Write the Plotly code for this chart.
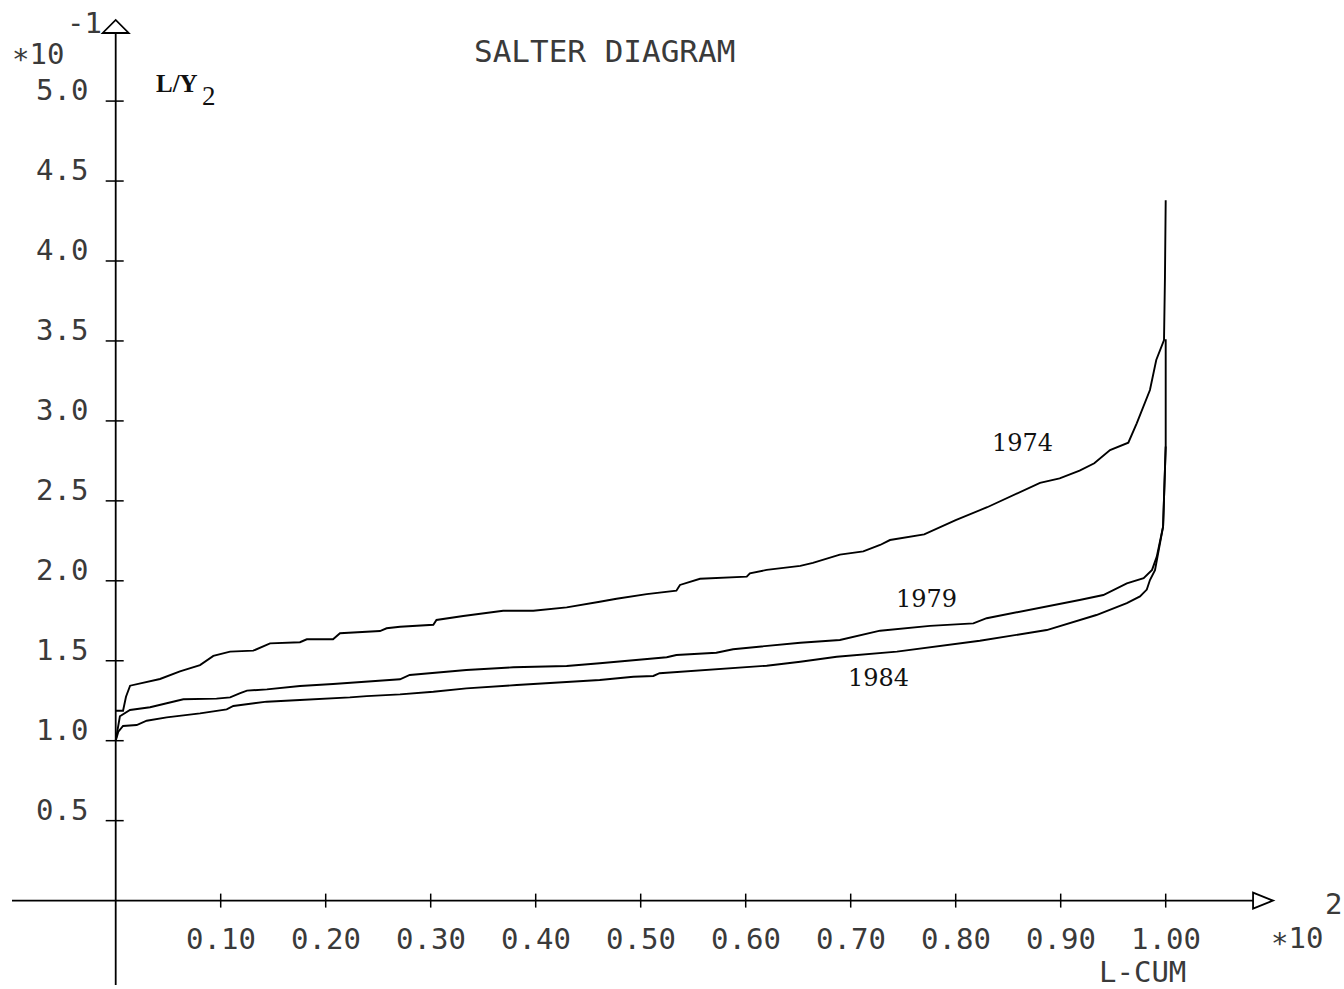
import plotly.graph_objects as go

# ---------------- data (x: L-CUM in units of 10^2, y: L/Y2 in units of 10^-1)
x_1974 = [0.0, 0.007, 0.0098, 0.0137, 0.0422, 0.0612, 0.0803, 0.093, 0.1089, 0.131, 0.147,
          0.1755, 0.182, 0.207, 0.2136, 0.2517, 0.258, 0.2708, 0.3025, 0.3055, 0.331, 0.350,
          0.369, 0.3977, 0.4295, 0.461, 0.477, 0.5057, 0.534, 0.5374, 0.5565, 0.601, 0.604,
          0.620, 0.652, 0.664, 0.6897, 0.712, 0.728, 0.7374, 0.77, 0.80, 0.83, 0.8803, 0.899,
          0.918, 0.932, 0.947, 0.9644, 0.9724, 0.9787, 0.985, 0.991, 0.9962, 0.9984, 0.9993, 1.0]
y_1974 = [1.187, 1.187, 1.275, 1.344, 1.386, 1.434, 1.473, 1.530, 1.557, 1.563, 1.609,
          1.616, 1.634, 1.634, 1.672, 1.686, 1.703, 1.713, 1.725, 1.755, 1.780, 1.797,
          1.813, 1.813, 1.834, 1.869, 1.888, 1.917, 1.938, 1.974, 2.013, 2.026, 2.047,
          2.068, 2.093, 2.112, 2.164, 2.184, 2.224, 2.255, 2.29, 2.38, 2.46, 2.612, 2.641,
          2.689, 2.735, 2.818, 2.864, 2.985, 3.089, 3.193, 3.381, 3.464, 3.506, 3.9, 4.38]

x_1979 = [0.0, 0.004, 0.0136, 0.0327, 0.0486, 0.0644, 0.096, 0.109, 0.118, 0.125, 0.144,
          0.1755, 0.207, 0.239, 0.2708, 0.280, 0.3025, 0.334, 0.3787, 0.4295, 0.461, 0.493,
          0.5248, 0.534, 0.572, 0.588, 0.620, 0.652, 0.6897, 0.728, 0.7755, 0.8168, 0.8295,
          0.8708, 0.918, 0.9406, 0.963, 0.979, 0.987, 0.9915, 0.995, 0.9975, 1.0, 1.0]
y_1979 = [1.0, 1.153, 1.192, 1.209, 1.234, 1.259, 1.263, 1.271, 1.296, 1.313, 1.321,
          1.342, 1.355, 1.369, 1.384, 1.411, 1.425, 1.442, 1.459, 1.467, 1.484, 1.505,
          1.522, 1.536, 1.550, 1.572, 1.593, 1.613, 1.630, 1.688, 1.718, 1.734, 1.766,
          1.817, 1.880, 1.911, 1.984, 2.016, 2.068, 2.151, 2.255, 2.338, 2.84, 3.51]

x_1984 = [0.0, 0.0025, 0.007, 0.02, 0.0295, 0.0486, 0.0803, 0.1057, 0.112, 0.1438, 0.1755,
          0.207, 0.223, 0.239, 0.2708, 0.3025, 0.334, 0.382, 0.4295, 0.461, 0.493, 0.512,
          0.518, 0.5565, 0.588, 0.620, 0.652, 0.6867, 0.744, 0.791, 0.823, 0.8867, 0.934,
          0.963, 0.9755, 0.982, 0.985, 0.9898, 0.9975, 1.0]
y_1984 = [1.0, 1.056, 1.092, 1.098, 1.125, 1.146, 1.171, 1.196, 1.217, 1.244, 1.255,
          1.263, 1.271, 1.279, 1.290, 1.306, 1.327, 1.348, 1.369, 1.380, 1.400, 1.405,
          1.422, 1.438, 1.453, 1.469, 1.494, 1.525, 1.557, 1.598, 1.625, 1.692, 1.786,
          1.861, 1.902, 1.945, 2.005, 2.067, 2.338, 2.84]

series_names = ["1974", "1979", "1984"]

x_ticks = [0.1, 0.2, 0.3, 0.4, 0.5, 0.6, 0.7, 0.8, 0.9, 1.0]
x_tick_labels = ["0.10", "0.20", "0.30", "0.40", "0.50", "0.60", "0.70", "0.80", "0.90", "1.00"]
y_ticks = [0.5, 1.0, 1.5, 2.0, 2.5, 3.0, 3.5, 4.0, 4.5, 5.0]
y_tick_labels = ["0.5", "1.0", "1.5", "2.0", "2.5", "3.0", "3.5", "4.0", "4.5", "5.0"]

# ---------------- geometry
W, H = 1344, 989
X0_PX, X_SCALE = 115.7, 1050.0   # pixel of x=0, pixels per unit
Y0_PX, Y_SCALE = 900.6, 159.9    # pixel of y=0, pixels per unit
x_range = [(0 - X0_PX) / X_SCALE, (W - X0_PX) / X_SCALE]
y_range = [(Y0_PX - H) / Y_SCALE, (Y0_PX - 0) / Y_SCALE]

def dx(px):  # pixel length -> x data length
    return px / X_SCALE

def dy(px):
    return px / Y_SCALE

NUM_FONT = dict(family="DejaVu Sans Mono", size=29, color="#3a3a3a")
LAB_FONT = dict(family="DejaVu Serif", size=24, color="#111111")
LINE = dict(color="black", width=1.8)

fig = go.Figure()
for name, xs, ys in [("1974", x_1974, y_1974), ("1979", x_1979, y_1979), ("1984", x_1984, y_1984)]:
    fig.add_trace(go.Scatter(x=xs, y=ys, mode="lines", name=name,
                             line=dict(color="black", width=1.9), showlegend=False))

shapes = []
# axes lines
shapes.append(dict(type="line", x0=x_range[0] + dx(12), x1=1.0832, y0=0, y1=0, line=LINE))
shapes.append(dict(type="line", x0=0, x1=0, y0=y_range[0] + dy(4), y1=5.426, line=LINE))
# arrow heads (open triangles)
shapes.append(dict(type="path",
                   path=f"M {-dx(13)},5.426 L {dx(13)},5.426 L 0,{5.426 + dy(13)} Z",
                   line=LINE, fillcolor="rgba(0,0,0,0)"))
shapes.append(dict(type="path",
                   path=f"M 1.0832,{-dy(8)} L 1.0832,{dy(8)} L {1.0832 + dx(20)},0 Z",
                   line=LINE, fillcolor="rgba(0,0,0,0)"))
# tick crosses
for v in x_ticks:
    shapes.append(dict(type="line", x0=v, x1=v, y0=-dy(7), y1=dy(7), line=dict(color="black", width=1.5)))
for v in y_ticks:
    shapes.append(dict(type="line", x0=-dx(10), x1=dx(8), y0=v, y1=v, line=dict(color="black", width=1.5)))

ann = []
for v, t in zip(x_ticks, x_tick_labels):
    ann.append(dict(x=v, y=0, xref="x", yref="y", text=t, showarrow=False,
                    xanchor="center", yanchor="middle", yshift=-38, font=NUM_FONT))
for v, t in zip(y_ticks, y_tick_labels):
    ann.append(dict(x=-dx(26), y=v, xref="x", yref="y", text=t, showarrow=False,
                    xanchor="right", yanchor="middle", yshift=11, font=NUM_FONT))

def ptext(px, py, text, font, xanchor="center"):
    ann.append(dict(x=px / W, y=1 - py / H, xref="paper", yref="paper", text=text,
                    showarrow=False, xanchor=xanchor, yanchor="middle", font=font))

ptext(604, 51, "SALTER DIAGRAM", dict(family="DejaVu Sans Mono", size=31, color="#3a3a3a"))
ptext(38, 54, "∗10", NUM_FONT)
ptext(84, 23, "-1", NUM_FONT)
ptext(1297, 938, "∗10", NUM_FONT)
ptext(1333, 904, "2", NUM_FONT)
ptext(1142, 972, "L-CUM", NUM_FONT)
ptext(177, 83, "<b>L/Y</b>", dict(family="Liberation Serif", size=25, color="#111111"))
ptext(209, 96, "2", dict(family="Liberation Serif", size=27, color="#111111"))
ptext(1022, 443, series_names[0], LAB_FONT)
ptext(926, 599, series_names[1], LAB_FONT)
ptext(878, 678, series_names[2], LAB_FONT)

fig.update_layout(
    width=W, height=H, autosize=False,
    margin=dict(l=0, r=0, t=0, b=0),
    paper_bgcolor="white", plot_bgcolor="white",
    xaxis=dict(range=x_range, visible=False, fixedrange=True),
    yaxis=dict(range=y_range, visible=False, fixedrange=True),
    shapes=shapes, annotations=ann, showlegend=False,
)
fig.write_html("out.html", config={"displayModeBar": False},
               post_script="document.body.style.margin='0';document.body.style.overflow='hidden';")
